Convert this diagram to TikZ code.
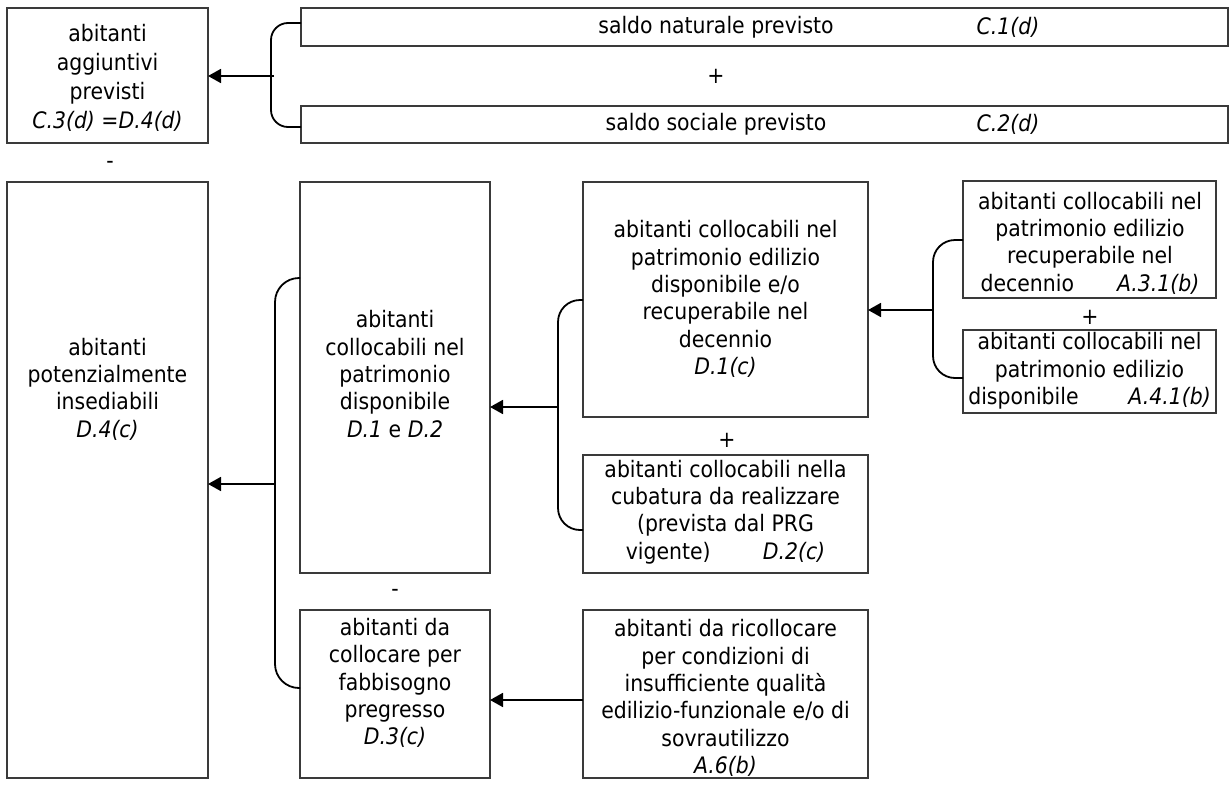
\documentclass[tikz,border=0pt]{standalone}
\usepackage{fontspec}
\setmainfont{DejaVu Sans}[FakeStretch=0.9]
\usetikzlibrary{arrows.meta}
\definecolor{boxc}{HTML}{3A3A3A}
\begin{document}
\begin{tikzpicture}[x=1pt,y=-1pt,
  box/.style n args={2}{draw=boxc, line width=1.2pt, inner sep=0pt, outer sep=0pt,
    minimum width=#1, minimum height=#2},
  lbl/.style={font=\fontsize{22.7pt}{27.4pt}\selectfont, align=center, inner sep=0pt},
  brk/.style={line width=1.8pt, rounded corners=#1},
  brk/.default=20pt,
  arr/.style={line width=1.8pt, -{Triangle[length=13pt,width=14pt]}}]
\useasboundingbox (0,0) rectangle (1229,787);
% boxes
\node[box={201pt}{135pt}] (A) at (107.5,75.5) {};
\node[box={927pt}{38pt}] (T1) at (764.5,27) {};
\node[box={927pt}{37pt}] (T2) at (764.5,124.5) {};
\node[box={201pt}{596pt}] (D4) at (107.5,480) {};
\node[box={190pt}{391pt}] (D12) at (395,377.5) {};
\node[box={190pt}{168pt}] (D3) at (395,694) {};
\node[box={285pt}{235pt}] (D1c) at (725.5,299.5) {};
\node[box={285pt}{118pt}] (D2c) at (725.5,514) {};
\node[box={285pt}{168pt}] (A6) at (725.5,694) {};
\node[box={253pt}{117pt}] (A31) at (1089.5,239.5) {};
\node[box={253pt}{83pt}] (A41) at (1089.5,371.5) {};
% texts
\node[lbl, font=\fontsize{22.7pt}{29pt}\selectfont] (tA) at (107.5,78) {abitanti\\aggiuntivi\\previsti\\\textit{C.3(d) =D.4(d)}};
\node[lbl] (tT1) at (716,27) {saldo naturale previsto};
\node[lbl] (cT1) at (1008,27) {\textit{C.1(d)}};
\node[lbl] (plus1) at (716,76) {+};
\node[lbl] (tT2) at (716,124.5) {saldo sociale previsto};
\node[lbl] (cT2) at (1008,124.5) {\textit{C.2(d)}};
\node[lbl] (minus1) at (110,165) {-};
\node[lbl] (tD4) at (107.5,389) {abitanti\\potenzialmente\\insediabili\\\textit{D.4(c)}};
\node[lbl] (tD12) at (395,374) {abitanti\\collocabili nel\\patrimonio\\disponibile\\\textit{D.1} e \textit{D.2}};
\node[lbl] (minus2) at (395,593) {-};
\node[lbl] (tD3) at (395,683) {abitanti da\\collocare per\\fabbisogno\\pregresso\\\textit{D.3(c)}};
\node[lbl] (tD1c) at (725.5,299) {abitanti collocabili nel\\patrimonio edilizio\\disponibile e/o\\recuperabile nel\\decennio\\\textit{D.1(c)}};
\node[lbl] (plus2) at (727,440) {+};
\node[lbl] (tD2c) at (725.5,512) {abitanti collocabili nella\\cubatura da realizzare\\(prevista dal PRG\\vigente)\hspace{2.3em}\textit{D.2(c)}};
\node[lbl] (tA6) at (725.5,698) {abitanti da ricollocare\\per condizioni di\\insufficiente qualità\\edilizio-funzionale e/o di\\sovrautilizzo\\\textit{A.6(b)}};
\node[lbl] (tA31) at (1090,243) {abitanti collocabili nel\\patrimonio edilizio\\recuperabile nel\\decennio\hspace{1.9em}\textit{A.3.1(b)}};
\node[lbl] (plus3) at (1090,317) {+};
\node[lbl] (tA41) at (1089.5,371) {abitanti collocabili nel\\patrimonio edilizio\\disponibile\hspace{2.2em}\textit{A.4.1(b)}};
% brackets and arrows
\coordinate (b1) at (271,76);
\draw[brk=17pt] ([yshift=4pt]T1.west) -| (b1) |- ([yshift=-2.5pt]T2.west);
\draw[arr] ([xshift=3pt]b1) -- (A.east |- b1);
\coordinate (b2) at (275,484);
\draw[brk=24pt] ([yshift=-96pt]D12.north west) -| (b2) |- ([yshift=-78pt]D3.north west);
\draw[arr] (b2) -- (D4.east |- b2);
\coordinate (b3) at (558,407);
\draw[brk=22pt] ([yshift=-118pt]D1c.north west) -| (b3) |- ([yshift=-75pt]D2c.north west);
\draw[arr] (b3) -- (D12.east |- b3);
\coordinate (b4) at (933,310);
\draw[brk=22pt] ([yshift=-59pt]A31.north west) -| (b4) |- ([yshift=-48pt]A41.north west);
\draw[arr] (b4) -- (D1c.east |- b4);
\draw[arr] ([yshift=-6pt]A6.west) -- ([yshift=-6pt]D3.east);
\end{tikzpicture}
\end{document}
